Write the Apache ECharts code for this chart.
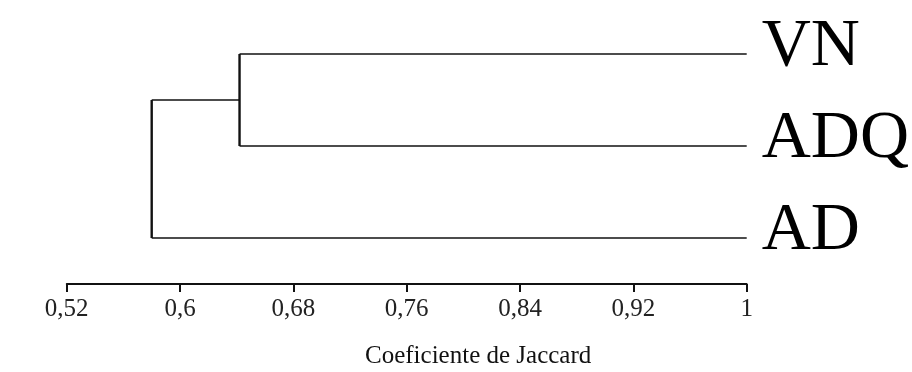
<!DOCTYPE html>
<html>
<head>
<meta charset="utf-8">
<script src="https://cdn.jsdelivr.net/npm/echarts@6/dist/echarts.min.js"></script>
<style>html,body{margin:0;padding:0;background:#fff;}#c{width:912px;height:372px;}</style>
</head>
<body>
<div id="c"></div>
<script>
// Leaves, top to bottom
const leaves = ['VN', 'ADQ', 'AD'];
const leafRow = [2, 1, 0];
// Merges (cluster joins) with Jaccard similarity
const mergeLeft = ['VN', 'VN+ADQ'];
const mergeRight = ['ADQ', 'AD'];
const mergeSim = [0.642, 0.580];
// X axis ticks
const tickValues = [0.52, 0.6, 0.68, 0.76, 0.84, 0.92, 1];
const tickLabels = ['0,52', '0,6', '0,68', '0,76', '0,84', '0,92', '1'];
const axisTitle = 'Coeficiente de Jaccard';

// Build node positions from the data
const nodes = {};
leaves.forEach((n, i) => { nodes[n] = { x: 1, y: leafRow[i] }; });
const segments = [];
mergeSim.forEach((s, i) => {
  const a = nodes[mergeLeft[i]], b = nodes[mergeRight[i]];
  segments.push([a.x, a.y, s, a.y]);
  segments.push([b.x, b.y, s, b.y]);
  segments.push([s, a.y, s, b.y]);
  nodes[mergeLeft[i] + '+' + mergeRight[i]] = { x: s, y: (a.y + b.y) / 2 };
});

const serif = '"Liberation Serif", "Times New Roman", serif';
const chart = echarts.init(document.getElementById('c'));
chart.setOption({
  animation: false,
  backgroundColor: '#fff',
  grid: { left: 66.7, right: 165.3, top: 8, bottom: 88 },
  xAxis: {
    type: 'value', min: 0.52, max: 1, interval: 0.08,
    splitLine: { show: false },
    axisLine: { show: true, onZero: false, lineStyle: { color: '#111', width: 1.8 } },
    axisTick: { show: true, length: 8, lineStyle: { color: '#111', width: 2 } },
    axisLabel: {
      margin: 13, color: '#222', fontFamily: serif, fontSize: 25,
      formatter: v => {
        const i = tickValues.findIndex(t => Math.abs(t - v) < 1e-6);
        return i >= 0 ? tickLabels[i] : '';
      }
    }
  },
  yAxis: { type: 'value', min: -0.5, max: 2.5, show: false },
  graphic: [{
    type: 'text', left: 365, top: 344,
    style: { text: axisTitle, font: '25px ' + serif, fill: '#111' }
  }],
  series: [{
    type: 'custom',
    data: segments,
    encode: { x: [0, 2], y: [1, 3] },
    renderItem: (params, api) => {
      const p1 = api.coord([api.value(0), api.value(1)]);
      const p2 = api.coord([api.value(2), api.value(3)]);
      const vertical = Math.abs(p1[0] - p2[0]) < 0.5;
      return {
        type: 'line',
        shape: { x1: p1[0], y1: p1[1], x2: p2[0], y2: p2[1] },
        style: { stroke: '#111', lineWidth: vertical ? 2.4 : 1.6 }
      };
    }
  }, {
    type: 'custom',
    data: leaves.map((n, i) => [1, leafRow[i], n]),
    encode: { x: 0, y: 1 },
    renderItem: (params, api) => {
      const p = api.coord([api.value(0), api.value(1)]);
      return {
        type: 'text',
        x: p[0] + 15, y: p[1] - 7,
        style: {
          text: leaves[params.dataIndex], font: '68px ' + serif, fill: '#000',
          textAlign: 'left', textVerticalAlign: 'middle'
        }
      };
    }
  }]
});
</script>
</body>
</html>
